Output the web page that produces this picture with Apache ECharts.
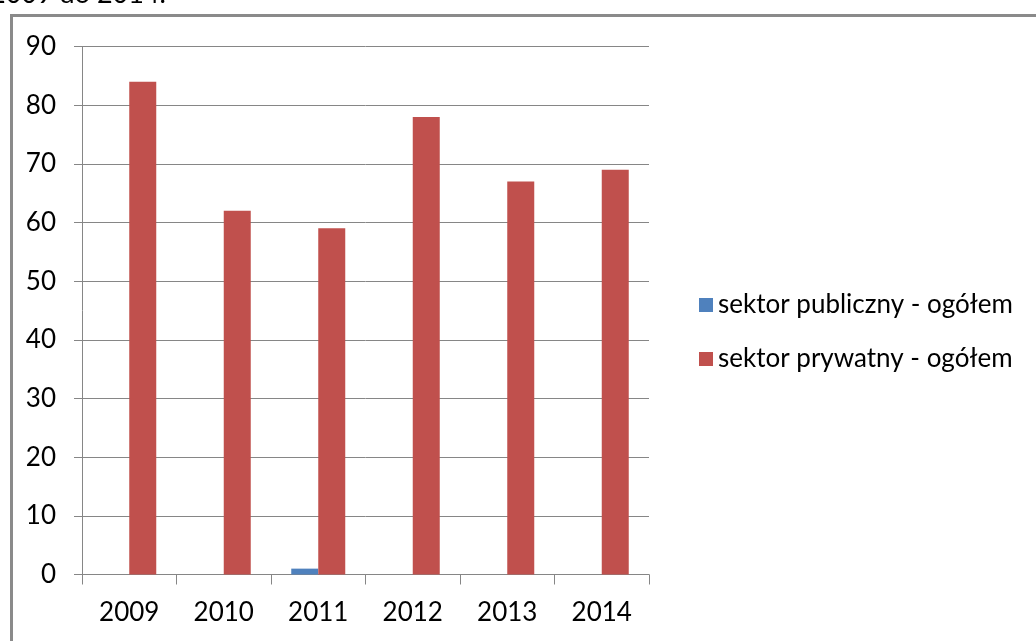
<!DOCTYPE html>
<html>
<head>
<meta charset="utf-8">
<script src="https://cdn.jsdelivr.net/npm/echarts@6/dist/echarts.min.js"></script>
<style>
html,body{margin:0;padding:0;background:#fff;}
#c{width:1036px;height:641px;}
</style>
</head>
<body>
<div id="c"></div>
<script>
var categories = ['2009', '2010', '2011', '2012', '2013', '2014'];
var seriesNames = ['sektor publiczny - ogółem', 'sektor prywatny - ogółem'];
var publicValues = [0, 0, 1, 0, 0, 0];
var privateValues = [84, 62, 59, 78, 67, 69];
var headerText = '2009 do 2014.';

var FONT = 'Lato';
var chart = echarts.init(document.getElementById('c'), null, {renderer: 'canvas'});
chart.setOption({
  animation: false,
  backgroundColor: '#ffffff',
  graphic: [
    {type: 'rect', left: 9, top: 13, shape: {width: 1200, height: 800},
     style: {fill: 'none', stroke: '#8a8a8a', lineWidth: 3}, z: 0},
    {type: 'text', left: -10, top: -19,
     style: {text: headerText, font: '27px ' + FONT, fill: '#000'}}
  ],
  grid: {left: 82, right: 387, top: 46.5, bottom: 66.5, containLabel: false},
  legend: {
    orient: 'vertical', left: 694, top: 287,
    itemWidth: 14, itemHeight: 14, itemGap: 28,
    icon: 'rect',
    textStyle: {fontFamily: FONT, fontSize: 26, color: '#000'},
    data: seriesNames
  },
  xAxis: {
    type: 'category', data: categories,
    axisLine: {lineStyle: {color: '#868686', width: 1}},
    axisTick: {show: true, length: 10, lineStyle: {color: '#868686'}},
    axisLabel: {fontFamily: FONT, fontSize: 26, color: '#000', margin: 25}
  },
  yAxis: {
    type: 'value', min: 0, max: 90, interval: 10,
    axisLine: {show: true, lineStyle: {color: '#868686', width: 1}},
    axisTick: {show: true, length: 8, lineStyle: {color: '#868686'}},
    splitLine: {lineStyle: {color: '#868686', width: 1}},
    axisLabel: {fontFamily: FONT, fontSize: 26, color: '#000', margin: 26}
  },
  series: [
    {name: seriesNames[0], type: 'bar', data: publicValues, barWidth: 27, barGap: '0%',
     itemStyle: {color: '#4f81bd'}},
    {name: seriesNames[1], type: 'bar', data: privateValues, barWidth: 27, barGap: '0%',
     itemStyle: {color: '#c0504d'}}
  ]
});
</script>
</body>
</html>
